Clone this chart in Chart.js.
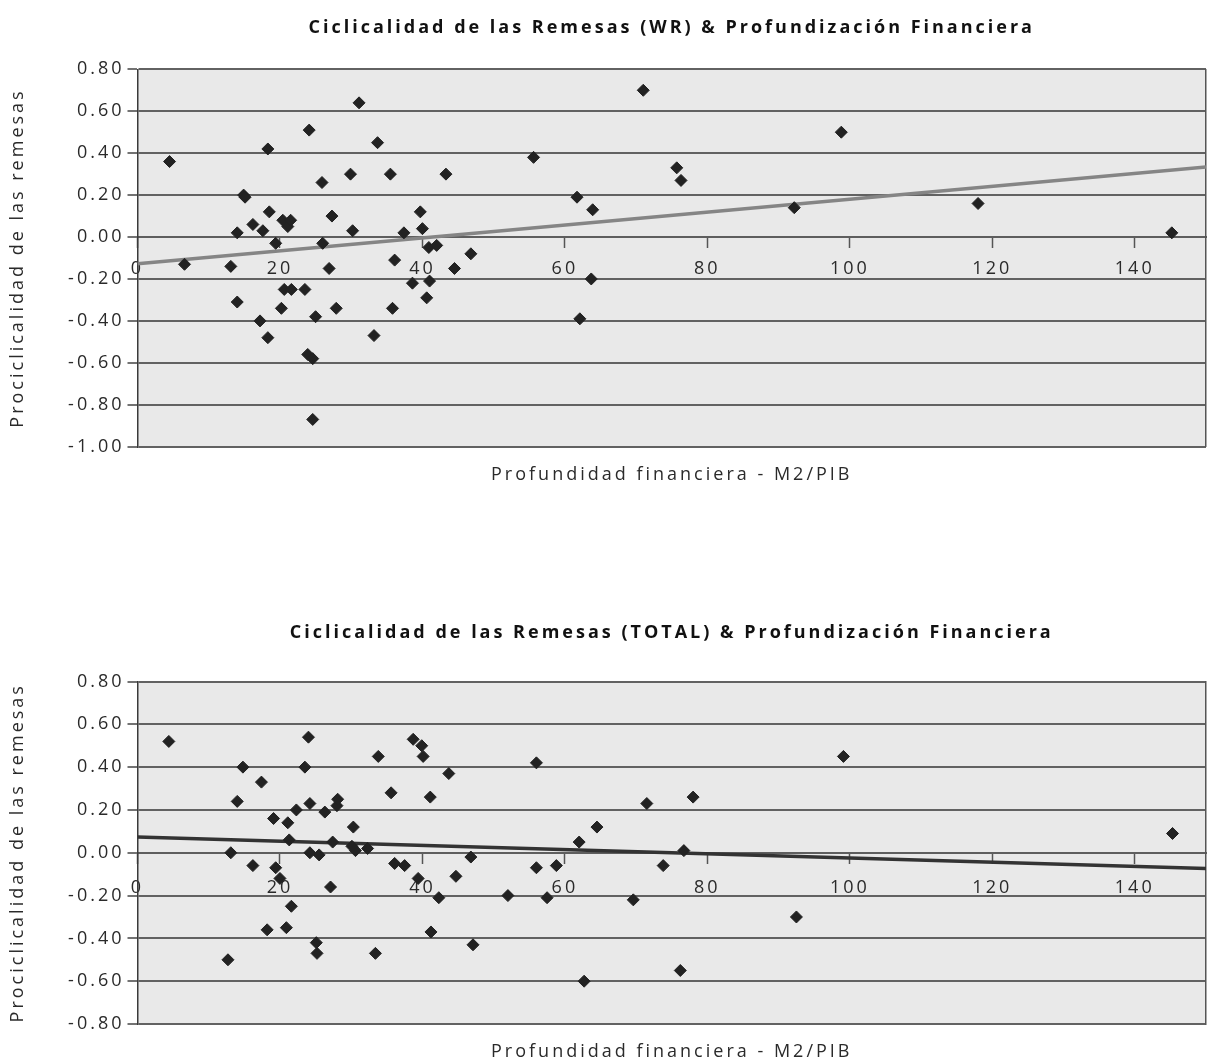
<!DOCTYPE html>
<html>
<head>
<meta charset="utf-8">
<script src="https://cdn.jsdelivr.net/npm/chart.js@4.4.1/dist/chart.umd.min.js"></script>
<style>
  html, body { margin: 0; padding: 0; background: #fff; overflow: hidden; }
  canvas { position: absolute; left: 0; }
  #chartWR { top: 0; }
  #chartTotal { top: 595px; }
</style>
</head>
<body>
<canvas id="chartWR" width="1213" height="490"></canvas>
<canvas id="chartTotal" width="1213" height="468"></canvas>
<script>
// === Datos: Remesas WR ===
const wrX = [4.5, 6.6, 13.1, 14.0, 14.0, 14.9, 15.1, 16.2, 17.2, 17.6, 18.3, 18.3, 18.5, 19.4, 20.2, 20.4,
  20.6, 21.1, 21.5, 21.6, 23.5, 23.9, 24.1, 24.6, 24.6, 25.0, 25.9, 26.0, 26.9, 27.3, 27.9, 29.9,
  30.2, 31.1, 33.2, 33.7, 35.5, 35.8, 36.1, 37.4, 38.6, 39.7, 40.0, 40.6, 40.9, 41.0, 42.0, 43.3,
  44.5, 46.8, 55.6, 61.7, 62.1, 63.7, 63.9, 71.0, 75.7, 76.3, 92.2, 98.8, 118.0, 145.2];
const wrY = [0.36, -0.13, -0.14, 0.02, -0.31, 0.20, 0.19, 0.06, -0.40, 0.03, 0.42, -0.48, 0.12, -0.03, -0.34, 0.08,
  -0.25, 0.05, 0.08, -0.25, -0.25, -0.56, 0.51, -0.58, -0.87, -0.38, 0.26, -0.03, -0.15, 0.10, -0.34, 0.30,
  0.03, 0.64, -0.47, 0.45, 0.30, -0.34, -0.11, 0.02, -0.22, 0.12, 0.04, -0.29, -0.05, -0.21, -0.04, 0.30,
  -0.15, -0.08, 0.38, 0.19, -0.39, -0.20, 0.13, 0.70, 0.33, 0.27, 0.14, 0.50, 0.16, 0.02];
const wrTrendX = [0, 150];
const wrTrendY = [-0.127, 0.334];

// === Datos: Remesas TOTAL ===
const totX = [4.4, 12.7, 13.1, 14.0, 14.8, 16.2, 17.4, 18.2, 19.1, 19.4, 20.0, 20.9, 21.1, 21.3, 21.6, 22.3,
  23.5, 24.0, 24.2, 24.2, 25.1, 25.2, 25.5, 26.3, 27.1, 27.4, 28.0, 28.1, 30.1, 30.3, 30.6, 32.3,
  33.4, 33.8, 35.6, 36.1, 37.5, 38.7, 39.4, 39.9, 40.1, 41.1, 41.2, 42.3, 43.7, 44.7, 46.8, 47.1,
  52.0, 56.0, 56.0, 57.5, 58.8, 62.0, 62.7, 64.5, 69.6, 71.5, 73.8, 76.2, 76.7, 78.0, 92.5, 99.1, 145.3];
const totY = [0.52, -0.50, 0.00, 0.24, 0.40, -0.06, 0.33, -0.36, 0.16, -0.07, -0.12, -0.35, 0.14, 0.06, -0.25, 0.20,
  0.40, 0.54, 0.23, 0.00, -0.42, -0.47, -0.01, 0.19, -0.16, 0.05, 0.22, 0.25, 0.03, 0.12, 0.01, 0.02,
  -0.47, 0.45, 0.28, -0.05, -0.06, 0.53, -0.12, 0.50, 0.45, 0.26, -0.37, -0.21, 0.37, -0.11, -0.02, -0.43,
  -0.20, 0.42, -0.07, -0.21, -0.06, 0.05, -0.60, 0.12, -0.22, 0.23, -0.06, -0.55, 0.01, 0.26, -0.30, 0.45, 0.09];
const totTrendX = [0, 150];
const totTrendY = [0.073, -0.074];

// === Ejes y textos ===
const xTicks = [0, 20, 40, 60, 80, 100, 120, 140];
const yTicksWR = [-1.0, -0.8, -0.6, -0.4, -0.2, 0.0, 0.2, 0.4, 0.6, 0.8];
const yTicksTotal = [-0.8, -0.6, -0.4, -0.2, 0.0, 0.2, 0.4, 0.6, 0.8];
const titleWR = "Ciclicalidad de las Remesas (WR) & Profundización Financiera";
const titleTotal = "Ciclicalidad de las Remesas (TOTAL) & Profundización Financiera";
const xTitle = "Profundidad financiera - M2/PIB";
const yTitle = "Prociclicalidad de las remesas";

Chart.defaults.font.family = "'Open Sans', sans-serif";
Chart.defaults.font.size = 18;
Chart.defaults.color = "#2a2a2a";

// fondo gris del área y espaciado de letras como en el original
const plotBg = {
  id: "plotBg",
  beforeDraw(chart) {
    const { ctx, chartArea: a } = chart;
    ctx.save();
    ctx.fillStyle = "#e9e9e9";
    ctx.fillRect(a.left, a.top, a.right - a.left, a.bottom - a.top);
    ctx.restore();
    ctx.letterSpacing = "3px";
  },
};

const toPoints = (xs, ys) => xs.map((x, i) => ({ x, y: ys[i] }));

function makeChart(id, opt) {
  const ctx = document.getElementById(id).getContext("2d");
  return new Chart(ctx, {
    type: "scatter",
    data: {
      datasets: [
        {
          data: toPoints(opt.xs, opt.ys),
          pointStyle: "rectRot",
          pointRadius: 6,
          backgroundColor: "#222",
          borderColor: "#222",
          borderWidth: 1,
        },
        {
          data: toPoints(opt.trendX, opt.trendY),
          showLine: true,
          pointRadius: 0,
          borderColor: opt.trendColor,
          borderWidth: 3.5,
        },
      ],
    },
    options: {
      responsive: false,
      animation: false,
      layout: { padding: 0 },
      plugins: { legend: { display: false }, tooltip: { enabled: false } },
      scales: {
        x: {
          type: "linear",
          position: { y: 0 },
          min: 0,
          max: 150,
          afterBuildTicks: (s) => { s.ticks = xTicks.map((v) => ({ value: v })); },
          ticks: { autoSkip: false, maxRotation: 0, padding: opt.xTickPad,
                   callback: (v) => String(v) },
          grid: { drawOnChartArea: false, drawTicks: true, tickLength: 10, tickColor: "#555", tickWidth: 1.5 },
          border: { display: true, color: "#5e5e5e", width: 2 },
        },
        y: {
          type: "linear",
          position: "left",
          min: opt.yMin,
          max: 0.8,
          afterBuildTicks: (s) => { s.ticks = opt.yTicks.map((v) => ({ value: v })); },
          afterFit: (s) => { s.width = 137.5; },
          ticks: { autoSkip: false, padding: 3, callback: (v) => v.toFixed(2) },
          grid: { color: "#626262", lineWidth: 2, tickColor: "#444", tickLength: 10, tickWidth: 1.5 },
          border: { color: "#3a3a3a", width: 1.5 },
          title: { display: true, text: yTitle, padding: { top: 7, bottom: 0 } },
        },
        y2: {
          axis: "y",
          type: "linear",
          position: "right",
          afterFit: (s) => { s.width = 2; },
          ticks: { display: false },
          grid: { display: false, drawTicks: false },
          border: { display: true, color: "#555", width: 1.5 },
        },
        xTop: {
          axis: "x",
          type: "linear",
          position: "top",
          afterFit: (s) => { s.height = opt.topH; },
          ticks: { display: false },
          grid: { display: false, drawTicks: false },
          border: { display: false },
          title: { display: true, text: opt.title, color: "#111",
                   font: { weight: "bold", size: 18 }, padding: { top: opt.titlePad, bottom: 0 } },
        },
        xBottom: {
          axis: "x",
          type: "linear",
          position: "bottom",
          afterFit: (s) => { s.height = opt.bottomH; },
          ticks: { display: false },
          grid: { display: false, drawTicks: false },
          border: { display: false },
          title: { display: true, text: xTitle, padding: { top: 0, bottom: opt.xTitlePad } },
        },
      },
    },
    plugins: [plotBg],
  });
}

makeChart("chartWR", {
  xs: wrX, ys: wrY, trendX: wrTrendX, trendY: wrTrendY, trendColor: "#858585",
  yMin: -1.0, yTicks: yTicksWR, title: titleWR,
  topH: 69.3, titlePad: 17.2, bottomH: 43.3, xTitlePad: 4.2, xTickPad: 11,
});

makeChart("chartTotal", {
  xs: totX, ys: totY, trendX: totTrendX, trendY: totTrendY, trendColor: "#333",
  yMin: -0.8, yTicks: yTicksTotal, title: titleTotal,
  topH: 86.5, titlePad: 27.2, bottomH: 39, xTitlePad: 0, xTickPad: 14,
});
</script>
</body>
</html>
